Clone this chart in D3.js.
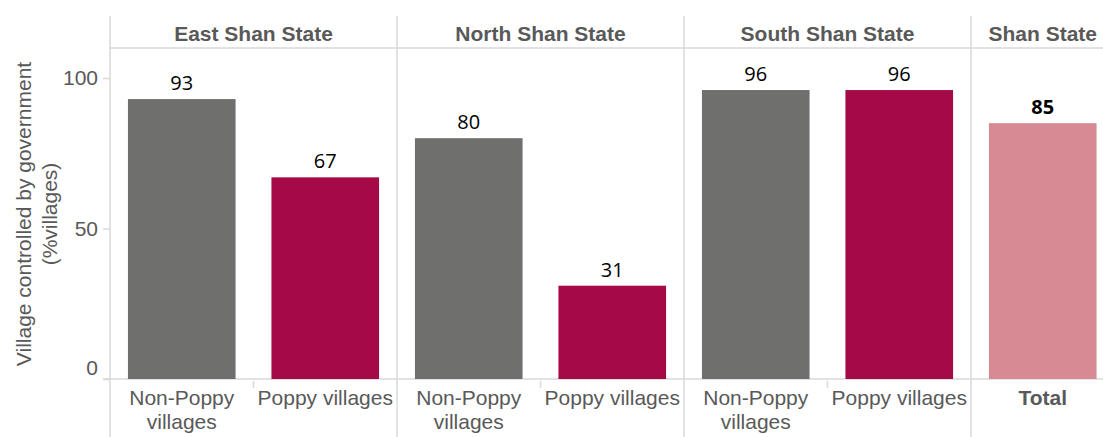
<!DOCTYPE html>
<html>
<head>
<meta charset="utf-8">
<script src="https://cdn.jsdelivr.net/npm/d3@7/dist/d3.min.js"></script>
<style>
  html, body { margin: 0; padding: 0; background: #fff; }
  svg { display: block; }
</style>
</head>
<body>
<svg id="chart" width="1103" height="437"></svg>
<script>
// Regions (panel headers) and the categories shown in each
const regions = ["East Shan State", "North Shan State", "South Shan State", "Shan State"];
const categories = [
  ["Non-Poppy villages", "Poppy villages"],
  ["Non-Poppy villages", "Poppy villages"],
  ["Non-Poppy villages", "Poppy villages"],
  ["Total"]
];
// Share of villages controlled by government (%)
const values = [
  [93, 67],
  [80, 31],
  [96, 96],
  [85]
];
const yTicks = [0, 50, 100];

const colorFor = cat => cat === "Total" ? "#d88a94" : (cat.startsWith("Non") ? "#6f6f6e" : "#a50a47");
const labelLines = cat => cat === "Non-Poppy villages" ? ["Non-Poppy", "villages"] : [cat];

const W = 1103, H = 437;
const left = 110, headerTop = 16, headerBottom = 48, plotBottom = 379;
const step = 143.5;
const textGray = "#595959", gridGray = "#d9d9d9";
const sans = "Liberation Sans, Arial, sans-serif";

const svg = d3.select("#chart");

const y = d3.scaleLinear().domain([0, 100]).range([plotBottom, 78]);

// panel x offsets
const panelX = [];
let cx = left;
categories.forEach(c => { panelX.push(cx); cx += c.length * step; });
const panelW = categories.map(c => c.length * step);

// header separator
svg.append("line")
  .attr("x1", left).attr("x2", W)
  .attr("y1", headerBottom).attr("y2", headerBottom)
  .attr("stroke", gridGray).attr("stroke-width", 1.5);

// panel dividers (full height)
panelX.forEach(px => {
  svg.append("line")
    .attr("x1", px).attr("x2", px)
    .attr("y1", headerTop).attr("y2", H)
    .attr("stroke", gridGray).attr("stroke-width", 1.5);
});

// x axis baseline
svg.append("line")
  .attr("x1", 103).attr("x2", W)
  .attr("y1", plotBottom).attr("y2", plotBottom)
  .attr("stroke", gridGray).attr("stroke-width", 1.5);

// headers
regions.forEach((r, i) => {
  svg.append("text")
    .attr("x", panelX[i] + panelW[i] / 2)
    .attr("y", 41)
    .attr("text-anchor", "middle")
    .attr("font-family", sans)
    .attr("font-weight", "bold")
    .attr("font-size", 21)
    .attr("fill", textGray)
    .text(r);
});

// panels with bars
categories.forEach((cats, i) => {
  const x = d3.scaleBand()
    .domain(cats)
    .range([panelX[i], panelX[i] + panelW[i]])
    .paddingInner(0.25)
    .paddingOuter(0.125);

  const rows = cats.map((c, j) => ({ c, v: values[i][j] }));
  const g = svg.append("g");

  g.selectAll("rect")
    .data(rows)
    .join("rect")
    .attr("x", d => x(d.c))
    .attr("width", x.bandwidth())
    .attr("y", d => y(d.v))
    .attr("height", d => y(0) - y(d.v))
    .attr("fill", d => colorFor(d.c));

  g.selectAll("text.val")
    .data(rows)
    .join("text")
    .attr("class", "val")
    .attr("x", d => x(d.c) + x.bandwidth() / 2)
    .attr("y", d => y(d.v) - 9)
    .attr("text-anchor", "middle")
    .attr("font-family", "Open Sans, DejaVu Sans, sans-serif")
    .attr("font-size", 20)
    .attr("font-weight", d => d.c === "Total" ? "bold" : "normal")
    .attr("fill", "#000")
    .text(d => d.v);

  // category labels
  cats.forEach(c => {
    const t = g.append("text")
      .attr("x", x(c) + x.bandwidth() / 2)
      .attr("y", 405)
      .attr("text-anchor", "middle")
      .attr("font-family", sans)
      .attr("font-size", 21)
      .attr("font-weight", c === "Total" ? "bold" : "normal")
      .attr("fill", textGray);
    labelLines(c).forEach((ln, k) => {
      t.append("tspan").attr("x", x(c) + x.bandwidth() / 2).attr("dy", k === 0 ? 0 : 24).text(ln);
    });
  });

  // small separator tick between categories
  for (let j = 1; j < cats.length; j++) {
    const sx = x(cats[j]) - x.step() * x.paddingInner() / 2;
    g.append("line")
      .attr("x1", sx).attr("x2", sx)
      .attr("y1", plotBottom + 2).attr("y2", plotBottom + 9)
      .attr("stroke", gridGray).attr("stroke-width", 1.5);
  }
});

// y axis
const yAxis = svg.append("g")
  .attr("transform", `translate(${left},0)`)
  .call(d3.axisLeft(y).tickValues(yTicks).tickSize(7).tickPadding(5));
yAxis.select(".domain").remove();
yAxis.selectAll(".tick line").attr("stroke", gridGray).attr("stroke-width", 1.5);
yAxis.selectAll(".tick text")
  .attr("font-family", sans)
  .attr("font-size", 21)
  .attr("fill", textGray)
  .attr("dy", d => d === 0 ? "-0.22em" : "0.32em");

// y axis title
const yt = svg.append("text")
  .attr("transform", "translate(31,214) rotate(-90)")
  .attr("text-anchor", "middle")
  .attr("font-family", sans)
  .attr("font-size", 21)
  .attr("fill", textGray);
yt.append("tspan").attr("x", 0).attr("dy", 0).text("Village controlled by government");
yt.append("tspan").attr("x", 0).attr("dy", 26).text("(%villages)");
</script>
</body>
</html>
